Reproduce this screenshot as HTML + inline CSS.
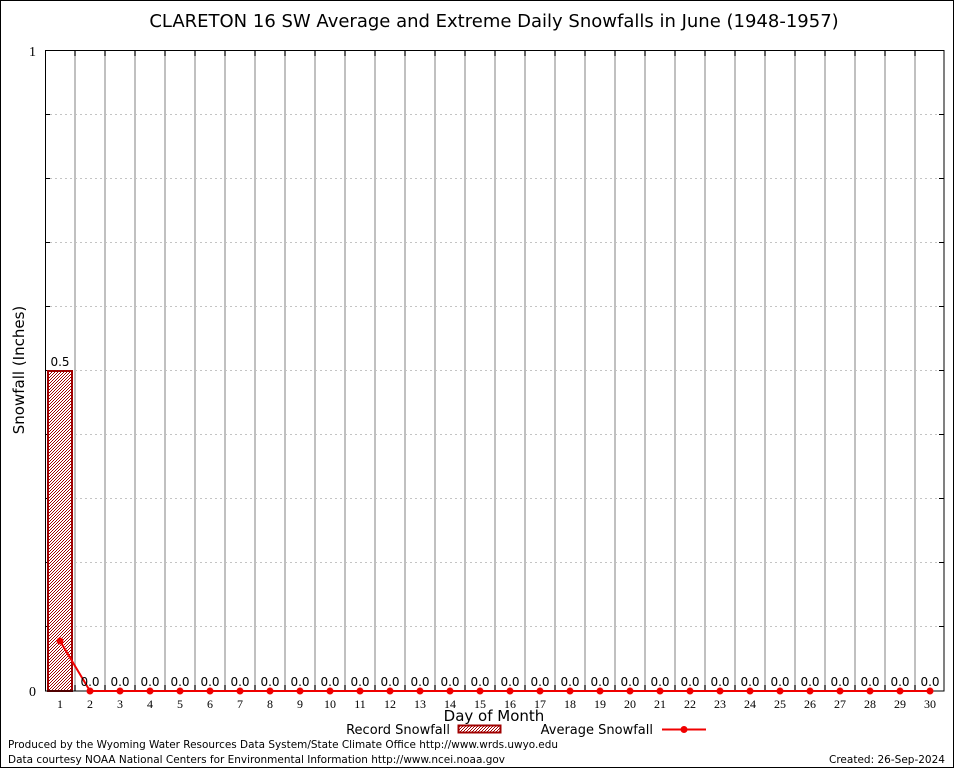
<!DOCTYPE html>
<html><head><meta charset="utf-8"><style>
html,body{margin:0;padding:0;background:#fff}
svg{display:block}
.t{font-family:"DejaVu Sans","Liberation Sans",sans-serif}
.s{font-family:"Liberation Serif",serif;font-size:12px}
</style></head><body>
<svg width="954" height="768" xmlns="http://www.w3.org/2000/svg">
<defs>
<pattern id="p" width="3" height="3" patternUnits="userSpaceOnUse">
<rect width="3" height="3" fill="#fff"/><rect width="1" height="1" fill="#a00000"/><rect x="2" y="1" width="1" height="1" fill="#a00000"/><rect x="1" y="2" width="1" height="1" fill="#a00000"/>
</pattern>
</defs>
<rect x="0.5" y="0.5" width="953" height="767" fill="#fff" stroke="#000"/>
<text x="494" y="27" text-anchor="middle" class="t" font-size="18">CLARETON 16 SW Average and Extreme Daily Snowfalls in June (1948-1957)</text>
<g stroke="#c4c4c4" stroke-dasharray="2,3" stroke-width="1">
<line x1="45" y1="114.5" x2="944" y2="114.5"/><line x1="45" y1="178.5" x2="944" y2="178.5"/><line x1="45" y1="242.5" x2="944" y2="242.5"/><line x1="45" y1="306.5" x2="944" y2="306.5"/><line x1="45" y1="370.5" x2="944" y2="370.5"/><line x1="45" y1="434.5" x2="944" y2="434.5"/><line x1="45" y1="498.5" x2="944" y2="498.5"/><line x1="45" y1="562.5" x2="944" y2="562.5"/><line x1="45" y1="626.5" x2="944" y2="626.5"/>
</g>
<g stroke="#c0c0c0" stroke-width="2">
<path d="M75,50V691M105,50V691M135,50V691M165,50V691M195,50V691M225,50V691M255,50V691M285,50V691M315,50V691M345,50V691M375,50V691M405,50V691M435,50V691M465,50V691M495,50V691M525,50V691M555,50V691M585,50V691M615,50V691M645,50V691M675,50V691M705,50V691M735,50V691M765,50V691M795,50V691M825,50V691M855,50V691M885,50V691M915,50V691"/>
</g>
<g stroke="#000" stroke-width="1">
<path d="M75,50v6M105,50v6M135,50v6M165,50v6M195,50v6M225,50v6M255,50v6M285,50v6M315,50v6M345,50v6M375,50v6M405,50v6M435,50v6M465,50v6M495,50v6M525,50v6M555,50v6M585,50v6M615,50v6M645,50v6M675,50v6M705,50v6M735,50v6M765,50v6M795,50v6M825,50v6M855,50v6M885,50v6M915,50v6"/>
<path d="M75,691v-6M105,691v-6M135,691v-6M165,691v-6M195,691v-6M225,691v-6M255,691v-6M285,691v-6M315,691v-6M345,691v-6M375,691v-6M405,691v-6M435,691v-6M465,691v-6M495,691v-6M525,691v-6M555,691v-6M585,691v-6M615,691v-6M645,691v-6M675,691v-6M705,691v-6M735,691v-6M765,691v-6M795,691v-6M825,691v-6M855,691v-6M885,691v-6M915,691v-6"/>
<path d="M45,114.5h5M45,178.5h5M45,242.5h5M45,306.5h5M45,370.5h5M45,434.5h5M45,498.5h5M45,562.5h5M45,626.5h5M944,114.5h-5M944,178.5h-5M944,242.5h-5M944,306.5h-5M944,370.5h-5M944,434.5h-5M944,498.5h-5M944,562.5h-5M944,626.5h-5"/>
</g>
<rect x="48" y="371" width="24" height="320" fill="url(#p)" stroke="#a00000" stroke-width="2"/>
<rect x="45.5" y="50.5" width="898.5" height="640.5" fill="none" stroke="#000"/>
<text x="60" y="366" text-anchor="middle" class="t" font-size="12">0.5</text>
<polyline points="60,641 90,691 930,691" fill="none" stroke="#f00000" stroke-width="2"/>
<g fill="#f00000">
<circle cx="60" cy="641" r="3.5"/><circle cx="90" cy="691" r="3.5"/><circle cx="120" cy="691" r="3.5"/><circle cx="150" cy="691" r="3.5"/><circle cx="180" cy="691" r="3.5"/><circle cx="210" cy="691" r="3.5"/><circle cx="240" cy="691" r="3.5"/><circle cx="270" cy="691" r="3.5"/><circle cx="300" cy="691" r="3.5"/><circle cx="330" cy="691" r="3.5"/><circle cx="360" cy="691" r="3.5"/><circle cx="390" cy="691" r="3.5"/><circle cx="420" cy="691" r="3.5"/><circle cx="450" cy="691" r="3.5"/><circle cx="480" cy="691" r="3.5"/><circle cx="510" cy="691" r="3.5"/><circle cx="540" cy="691" r="3.5"/><circle cx="570" cy="691" r="3.5"/><circle cx="600" cy="691" r="3.5"/><circle cx="630" cy="691" r="3.5"/><circle cx="660" cy="691" r="3.5"/><circle cx="690" cy="691" r="3.5"/><circle cx="720" cy="691" r="3.5"/><circle cx="750" cy="691" r="3.5"/><circle cx="780" cy="691" r="3.5"/><circle cx="810" cy="691" r="3.5"/><circle cx="840" cy="691" r="3.5"/><circle cx="870" cy="691" r="3.5"/><circle cx="900" cy="691" r="3.5"/><circle cx="930" cy="691" r="3.5"/>
</g>
<g class="t" font-size="12" text-anchor="middle">
<text x="90" y="686">0.0</text><text x="120" y="686">0.0</text><text x="150" y="686">0.0</text><text x="180" y="686">0.0</text><text x="210" y="686">0.0</text><text x="240" y="686">0.0</text><text x="270" y="686">0.0</text><text x="300" y="686">0.0</text><text x="330" y="686">0.0</text><text x="360" y="686">0.0</text><text x="390" y="686">0.0</text><text x="420" y="686">0.0</text><text x="450" y="686">0.0</text><text x="480" y="686">0.0</text><text x="510" y="686">0.0</text><text x="540" y="686">0.0</text><text x="570" y="686">0.0</text><text x="600" y="686">0.0</text><text x="630" y="686">0.0</text><text x="660" y="686">0.0</text><text x="690" y="686">0.0</text><text x="720" y="686">0.0</text><text x="750" y="686">0.0</text><text x="780" y="686">0.0</text><text x="810" y="686">0.0</text><text x="840" y="686">0.0</text><text x="870" y="686">0.0</text><text x="900" y="686">0.0</text><text x="930" y="686">0.0</text>
</g>
<g class="s" text-anchor="middle">
<text x="60" y="708">1</text><text x="90" y="708">2</text><text x="120" y="708">3</text><text x="150" y="708">4</text><text x="180" y="708">5</text><text x="210" y="708">6</text><text x="240" y="708">7</text><text x="270" y="708">8</text><text x="300" y="708">9</text><text x="330" y="708">10</text><text x="360" y="708">11</text><text x="390" y="708">12</text><text x="420" y="708">13</text><text x="450" y="708">14</text><text x="480" y="708">15</text><text x="510" y="708">16</text><text x="540" y="708">17</text><text x="570" y="708">18</text><text x="600" y="708">19</text><text x="630" y="708">20</text><text x="660" y="708">21</text><text x="690" y="708">22</text><text x="720" y="708">23</text><text x="750" y="708">24</text><text x="780" y="708">25</text><text x="810" y="708">26</text><text x="840" y="708">27</text><text x="870" y="708">28</text><text x="900" y="708">29</text><text x="930" y="708">30</text>
<text x="36" y="56" text-anchor="end" font-size="14">1</text><text x="36" y="696" text-anchor="end" font-size="14">0</text>
</g>
<text x="494" y="721" text-anchor="middle" class="t" font-size="15">Day of Month</text>
<text transform="translate(24,370) rotate(-90)" text-anchor="middle" class="t" font-size="15">Snowfall (Inches)</text>
<text x="450" y="734" text-anchor="end" class="t" font-size="13">Record Snowfall</text>
<rect x="458.5" y="725.5" width="42" height="7" fill="url(#p)" stroke="#a00000" stroke-width="2"/>
<text x="653" y="734" text-anchor="end" class="t" font-size="13">Average Snowfall</text>
<line x1="662" y1="729.5" x2="706" y2="729.5" stroke="#f00000" stroke-width="2"/>
<circle cx="684" cy="729.5" r="3.5" fill="#f00000"/>
<text x="8" y="748" class="t" font-size="11" textLength="550" lengthAdjust="spacingAndGlyphs">Produced by the Wyoming Water Resources Data System/State Climate Office http://www.wrds.uwyo.edu</text>
<text x="8" y="763" class="t" font-size="11" textLength="497" lengthAdjust="spacingAndGlyphs">Data courtesy NOAA National Centers for Environmental Information http://www.ncei.noaa.gov</text>
<text x="829" y="763" class="t" font-size="11" textLength="116" lengthAdjust="spacingAndGlyphs">Created: 26-Sep-2024</text>
</svg>
</body></html>
